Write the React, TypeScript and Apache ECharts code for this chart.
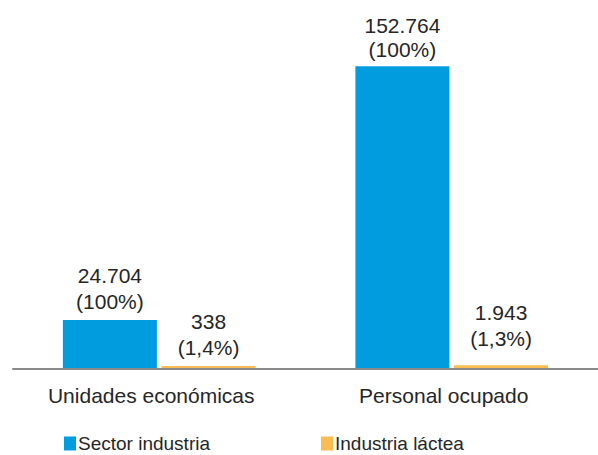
import React, { useEffect, useRef } from "react";
import * as echarts from "echarts";

const categories = ["Unidades económicas", "Personal ocupado"];
const seriesNames = ["Sector industria", "Industria láctea"];
const sectorValues = [24704, 152764];
const lacteaValues = [338, 1943];
const sectorPct = ["100%", "100%"];
const lacteaPct = ["1,4%", "1,3%"];

const BLUE = "#009CDE";
const ORANGE = "#FBBD52";
const TEXT = "#262626";
const FONT = "'Liberation Sans', Arial, sans-serif";

function fmt(v: number): string {
  return String(v).replace(/\B(?=(\d{3})+(?!\d))/g, ".");
}

export default function App() {
  const ref = useRef<HTMLDivElement>(null);
  useEffect(() => {
    if (!ref.current) return;
    const chart = echarts.init(ref.current, undefined, { renderer: "svg" });
    const labelStyle = (pcts: string[]) => ({
      show: true,
      position: "top" as const,
      distance: 6,
      color: TEXT,
      fontFamily: FONT,
      fontSize: 21,
      lineHeight: 26,
      formatter: (p: any) => `${fmt(p.value)}\n(${pcts[p.dataIndex]})`,
    });
    const legendBase = {
      top: 429,
      icon: "rect",
      itemWidth: 12,
      itemHeight: 14,
      textStyle: {
        color: TEXT,
        fontSize: 19,
        lineHeight: 19,
        fontFamily: FONT,
        padding: [0, 0, 0, -3],
      },
    };
    chart.setOption({
      animation: false,
      backgroundColor: "#ffffff",
      textStyle: { fontFamily: FONT },
      grid: { left: 13, width: 588, top: 52, bottom: 86, containLabel: false },
      legend: [
        { ...legendBase, data: [seriesNames[0]], left: 59 },
        { ...legendBase, data: [seriesNames[1]], left: 316 },
      ],
      xAxis: {
        type: "category",
        data: categories,
        z: 5,
        axisLine: { lineStyle: { color: "#898989", width: 2 } },
        axisTick: { show: false },
        axisLabel: {
          color: TEXT,
          fontSize: 21,
          fontFamily: FONT,
          margin: 16,
          padding: [0, 16, 0, 0],
        },
      },
      yAxis: {
        type: "value",
        min: 0,
        max: 160000,
        show: false,
        splitLine: { show: false },
      },
      series: [
        {
          name: seriesNames[0],
          type: "bar",
          data: sectorValues.map((v, i) =>
            i === 1 ? { value: v, label: { lineHeight: 24, offset: [0, 1] } } : v
          ),
          barWidth: 94,
          barGap: "5%",
          itemStyle: { color: BLUE },
          label: labelStyle(sectorPct),
        },
        {
          name: seriesNames[1],
          type: "bar",
          data: lacteaValues.map((v, i) =>
            i === 1 ? { value: v, label: { offset: [0, -8] } } : v
          ),
          barWidth: 94,
          barMinHeight: 3,
          itemStyle: { color: ORANGE },
          label: labelStyle(lacteaPct),
        },
      ],
    });
    return () => chart.dispose();
  }, []);
  return (
    <div
      ref={ref}
      style={{ position: "fixed", left: 0, top: 0, width: 598, height: 455 }}
    />
  );
}
